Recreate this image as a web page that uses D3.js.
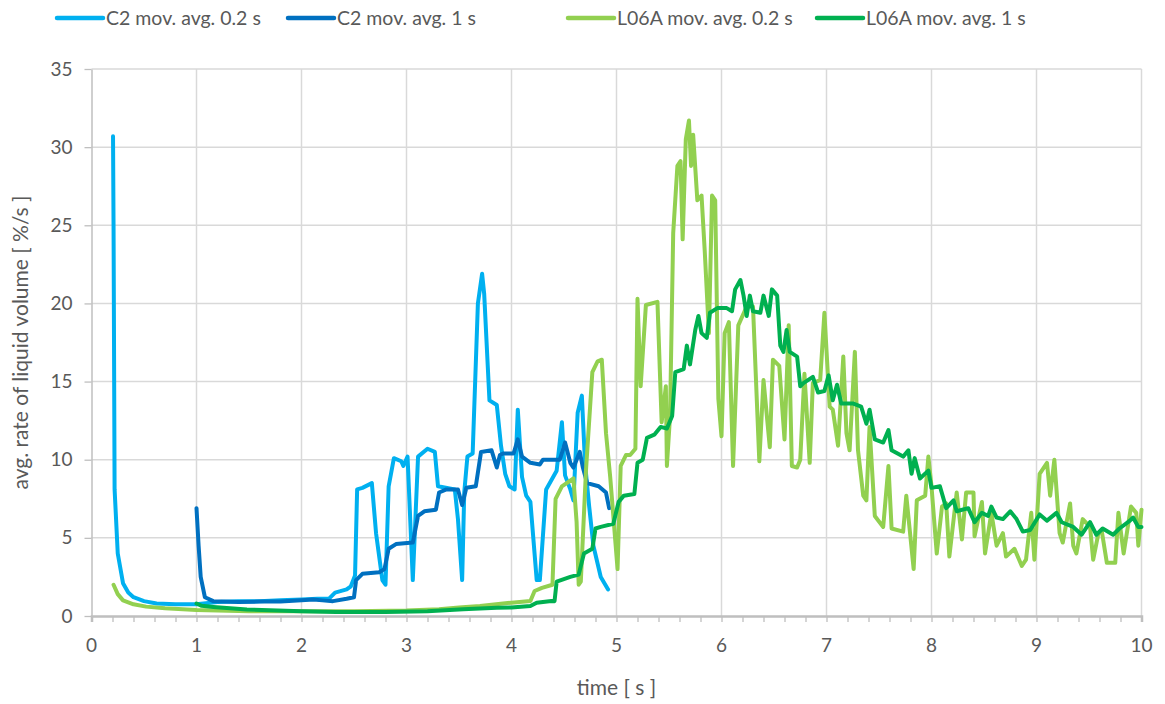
<!DOCTYPE html>
<html>
<head>
<meta charset="utf-8">
<script src="https://cdn.jsdelivr.net/npm/d3@7"></script>
<style>
    body { margin: 0; background: #fff; }
    text { font-family: Lato, "Open Sans", sans-serif; fill: #595959; }
</style>
</head>
<body>
<svg id="chart" width="1165" height="704"></svg>
<script>
// nazvy serii a jejich barvy (stejne poradi jako v legende)
const seriesNames = ["C2 mov. avg. 0.2 s", "C2 mov. avg. 1 s", "L06A mov. avg. 0.2 s", "L06A mov. avg. 1 s"];
const seriesColors = ["#00b0f0", "#0070c0", "#92d050", "#00b050"];

// popisky os
const xTicks = [0, 1, 2, 3, 4, 5, 6, 7, 8, 9, 10];
const yTicks = [0, 5, 10, 15, 20, 25, 30, 35];
const xTitle = "time [ s ]";
const yTitle = "avg. rate of liquid volume [ %/s ]";

// data: [cas s, hodnota %/s]
const c2Fast = [
    [0.205,30.7],[0.21,25],[0.22,8.1],[0.25,4.0],[0.30,2.1],[0.35,1.5],[0.40,1.2],[0.50,0.95],[0.62,0.8],
    [0.8,0.75],[1.0,0.75],[1.2,0.9],[1.4,0.95],[1.6,0.95],[1.8,1.0],[2.0,1.05],[2.15,1.1],[2.26,1.1],
    [2.32,1.5],[2.43,1.7],[2.47,1.9],[2.51,2.6],[2.53,8.1],[2.58,8.2],[2.67,8.5],[2.71,5.3],[2.77,2.3],
    [2.80,2.0],[2.83,8.3],[2.88,10.1],[2.95,9.9],[2.97,9.6],[3.01,10.2],[3.06,2.3],[3.11,10.2],[3.20,10.7],
    [3.27,10.5],[3.30,8.3],[3.46,8.1],[3.49,6.2],[3.53,2.3],[3.55,7.9],[3.58,10.2],[3.63,10.4],[3.68,20],
    [3.72,21.9],[3.74,20.6],[3.79,13.8],[3.86,13.5],[3.90,10.9],[3.94,9.1],[3.98,8.3],[4.03,8.1],[4.06,13.2],
    [4.10,8.9],[4.14,7.7],[4.18,7.3],[4.24,2.3],[4.27,2.3],[4.33,8.1],[4.43,9.3],[4.48,12.4],[4.51,9.0],
    [4.56,8.1],[4.59,7.4],[4.63,13.0],[4.67,14.1],[4.70,9.8],[4.74,7.0],[4.78,4.5],[4.85,2.5],[4.92,1.7]
];
const c2Slow = [
    [1.0,6.9],[1.02,4.5],[1.04,2.5],[1.08,1.2],[1.16,0.95],[1.4,0.9],[1.6,0.92],[1.8,0.93],[2.0,1.0],
    [2.11,1.05],[2.2,1.0],[2.30,0.95],[2.43,1.1],[2.50,1.2],[2.52,2.3],[2.58,2.7],[2.74,2.8],[2.79,3.0],
    [2.83,4.3],[2.90,4.6],[3.06,4.7],[3.11,6.4],[3.17,6.7],[3.28,6.8],[3.31,7.9],[3.38,8.1],[3.49,8.1],
    [3.53,7.1],[3.57,8.2],[3.66,8.3],[3.71,10.5],[3.81,10.6],[3.86,9.5],[3.89,10.3],[3.92,10.4],[4.02,10.4],
    [4.06,11.3],[4.10,10.2],[4.18,9.8],[4.27,9.7],[4.30,10.0],[4.46,10.0],[4.51,11.1],[4.56,9.8],[4.59,9.5],
    [4.65,10.5],[4.68,9.5],[4.72,8.5],[4.83,8.3],[4.90,7.9],[4.93,6.9]
];
const l06aFast = [
    [0.21,2.0],[0.25,1.4],[0.30,1.0],[0.4,0.75],[0.52,0.6],[0.7,0.5],[1.0,0.38],[1.5,0.3],[2.0,0.3],
    [2.5,0.3],[3.0,0.35],[3.31,0.43],[3.5,0.55],[3.70,0.64],[3.92,0.8],[4.0,0.85],[4.18,0.96],[4.22,1.6],
    [4.29,1.8],[4.39,2.0],[4.42,7.5],[4.48,8.3],[4.59,8.8],[4.62,6.0],[4.64,2.0],[4.66,2.2],[4.71,9.4],
    [4.77,15.6],[4.82,16.3],[4.86,16.4],[4.90,11.7],[4.94,8.9],[5.01,3.0],[5.04,9.6],[5.09,10.3],[5.13,10.3],
    [5.18,10.7],[5.20,20.3],[5.23,14.7],[5.28,19.9],[5.39,20.1],[5.43,12.4],[5.47,14.7],[5.48,9.6],[5.51,12.8],
    [5.54,24.5],[5.58,28.8],[5.61,29.1],[5.63,24.1],[5.66,30.5],[5.69,31.7],[5.71,28.8],[5.73,30.8],[5.77,26.6],
    [5.81,26.9],[5.84,23.4],[5.88,18.1],[5.91,26.9],[5.94,26.6],[5.97,13.9],[6.0,11.5],[6.03,18.1],[6.07,18.8],
    [6.11,9.6],[6.16,18.6],[6.24,19.8],[6.30,19.8],[6.36,9.9],[6.40,15.1],[6.46,10.8],[6.49,16.4],[6.55,16.0],
    [6.60,11.3],[6.64,18.6],[6.67,9.6],[6.72,9.5],[6.75,10.0],[6.79,15.5],[6.84,9.8],[6.87,14.9],[6.94,15.1],
    [6.98,19.4],[7.03,13.4],[7.06,13.2],[7.11,10.9],[7.16,16.6],[7.19,11.7],[7.22,10.6],[7.27,16.9],[7.30,10.6],
    [7.35,7.7],[7.38,7.4],[7.41,12.1],[7.46,6.4],[7.54,5.7],[7.59,9.6],[7.62,5.6],[7.73,5.4],[7.76,7.7],
    [7.83,3.0],[7.86,7.4],[7.94,7.7],[7.97,10.2],[8.0,8.3],[8.05,4.0],[8.10,7.0],[8.14,7.2],[8.17,3.8],
    [8.24,7.9],[8.29,4.9],[8.33,7.9],[8.40,7.9],[8.41,5.1],[8.48,7.3],[8.51,4.0],[8.57,6.6],[8.62,4.5],
    [8.68,5.3],[8.71,3.8],[8.79,4.3],[8.86,3.2],[8.90,3.6],[8.95,6.6],[8.98,3.6],[9.03,9.1],[9.10,9.8],
    [9.13,7.7],[9.17,10.0],[9.22,5.3],[9.25,4.7],[9.32,7.2],[9.35,4.5],[9.38,4.0],[9.44,6.2],[9.51,5.7],
    [9.54,3.6],[9.59,5.3],[9.62,5.5],[9.67,3.4],[9.75,3.4],[9.78,6.6],[9.83,4.0],[9.90,7.0],[9.95,6.6],
    [9.97,4.5],[10.0,6.8]
];
const l06aSlow = [
    [1.0,0.8],[1.05,0.65],[1.16,0.58],[1.48,0.42],[2.0,0.3],[2.33,0.25],[2.8,0.25],[3.2,0.3],[3.54,0.43],
    [3.86,0.53],[4.0,0.55],[4.18,0.64],[4.24,0.85],[4.38,0.96],[4.41,0.95],[4.43,2.2],[4.56,2.5],[4.64,2.65],
    [4.69,4.0],[4.77,4.3],[4.80,5.6],[4.85,5.7],[4.97,5.9],[5.02,7.3],[5.07,7.7],[5.17,7.8],[5.20,9.8],
    [5.25,10.0],[5.29,11.4],[5.36,11.6],[5.42,12.1],[5.48,12.0],[5.53,12.8],[5.56,15.6],[5.64,15.8],[5.67,17.3],
    [5.70,16.1],[5.75,18.3],[5.78,19.2],[5.81,18.1],[5.86,17.8],[5.89,19.4],[5.96,19.7],[6.05,19.7],[6.10,19.5],
    [6.13,20.9],[6.18,21.5],[6.21,20.5],[6.24,19.2],[6.27,20.5],[6.30,19.5],[6.37,19.4],[6.40,20.5],[6.45,19.2],
    [6.48,20.9],[6.53,20.5],[6.56,17.3],[6.59,16.9],[6.62,18.3],[6.65,16.9],[6.72,16.6],[6.75,14.7],[6.78,14.9],
    [6.87,15.3],[6.92,14.3],[6.98,14.4],[7.02,15.4],[7.06,13.8],[7.10,14.8],[7.14,13.6],[7.25,13.6],[7.33,13.4],
    [7.38,12.3],[7.41,13.2],[7.46,11.3],[7.54,11.1],[7.59,11.9],[7.62,10.6],[7.73,10.2],[7.78,10.6],[7.81,9.1],
    [7.84,10.1],[7.89,8.8],[7.97,9.3],[8.0,8.2],[8.08,8.3],[8.14,6.9],[8.21,7.4],[8.24,6.7],[8.35,6.9],
    [8.41,6.0],[8.48,6.6],[8.54,6.4],[8.57,7.0],[8.62,6.3],[8.68,6.2],[8.75,6.7],[8.81,6.2],[8.87,5.4],
    [8.94,5.5],[9.03,6.5],[9.10,6.1],[9.19,6.6],[9.24,6.0],[9.35,5.7],[9.43,5.2],[9.51,6.0],[9.57,5.2],
    [9.63,5.6],[9.73,5.2],[9.79,5.6],[9.89,6.1],[9.92,6.3],[9.97,5.7],[10.0,5.7]
];
const seriesData = [c2Fast, c2Slow, l06aFast, l06aSlow];

// rozmery grafu
const plot = {left: 91.5, right: 1141.5, top: 69, bottom: 616};
const svg = d3.select("#chart");

const x = d3.scaleLinear().domain([0, 10]).range([plot.left, plot.right]);
const y = d3.scaleLinear().domain([0, 35]).range([plot.bottom, plot.top]);

// mrizka
svg.append("g")
    .selectAll("line.h")
    .data(yTicks.filter(d => d > 0))
    .join("line")
    .attr("x1", plot.left).attr("x2", plot.right)
    .attr("y1", d => y(d)).attr("y2", d => y(d))
    .attr("stroke", "#d9d9d9").attr("stroke-width", 1.5);
svg.append("g")
    .selectAll("line.v")
    .data(xTicks.filter(d => d > 0))
    .join("line")
    .attr("x1", d => x(d)).attr("x2", d => x(d))
    .attr("y1", plot.top).attr("y2", plot.bottom)
    .attr("stroke", "#d9d9d9").attr("stroke-width", 1.5);

// osa x - hlavni popisky, vedlejsi ticky po 0.2
const xAxis = svg.append("g")
    .attr("transform", "translate(0," + plot.bottom + ")")
    .call(d3.axisBottom(x).tickValues(d3.range(0, 10.01, 0.2)).tickSize(6).tickFormat(""));
xAxis.select(".domain").attr("stroke", "#bfbfbf").attr("stroke-width", 2.5);
xAxis.selectAll(".tick line").attr("stroke", "#bfbfbf").attr("stroke-width", 1.3);
svg.append("g")
    .selectAll("text")
    .data(xTicks)
    .join("text")
    .attr("x", d => x(d))
    .attr("y", 652)
    .attr("text-anchor", "middle")
    .attr("font-size", 19)
    .text(d => d);

// osa y
const yAxis = svg.append("g")
    .attr("transform", "translate(" + plot.left + ",0)")
    .call(d3.axisLeft(y).tickValues(yTicks).tickSize(7).tickPadding(12).tickSizeOuter(0));
yAxis.select(".domain").attr("stroke", "#bfbfbf").attr("stroke-width", 1.5);
yAxis.selectAll(".tick line").attr("stroke", "#bfbfbf").attr("stroke-width", 1.3);
yAxis.selectAll(".tick text")
    .attr("font-size", 19)
    .attr("font-family", "Lato, sans-serif")
    .attr("fill", "#595959");

// nazvy os
svg.append("text")
    .attr("x", (plot.left + plot.right) / 2)
    .attr("y", 695)
    .attr("text-anchor", "middle")
    .attr("font-size", 21)
    .text(xTitle);
svg.append("text")
    .attr("transform", "translate(28," + ((plot.top + plot.bottom) / 2) + ") rotate(-90)")
    .attr("text-anchor", "middle")
    .attr("font-size", 21)
    .text(yTitle);

// krivky
const line = d3.line()
    .x(d => x(d[0]))
    .y(d => y(d[1]));

svg.append("g")
    .selectAll("path")
    .data(seriesData)
    .join("path")
    .attr("d", line)
    .attr("fill", "none")
    .attr("stroke", (d, i) => seriesColors[i])
    .attr("stroke-width", 4)
    .attr("stroke-linejoin", "round")
    .attr("stroke-linecap", "round");

// legenda nahore
const legendX = [57, 288, 568, 817];
const legend = svg.append("g")
    .selectAll("g")
    .data(seriesNames)
    .join("g")
    .attr("transform", (d, i) => "translate(" + legendX[i] + ",18)");
legend.append("line")
    .attr("x1", 0).attr("x2", 46)
    .attr("stroke", (d, i) => seriesColors[i])
    .attr("stroke-width", 4.5)
    .attr("stroke-linecap", "round");
legend.append("text")
    .attr("x", 49)
    .attr("dy", "0.35em")
    .attr("font-size", 19.5)
    .text(d => d);
</script>
</body>
</html>
